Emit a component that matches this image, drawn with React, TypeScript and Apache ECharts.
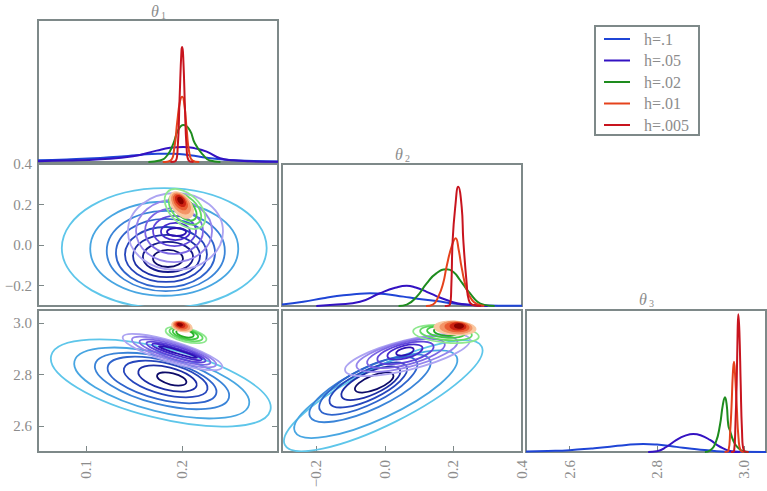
import React, { useEffect, useRef } from "react";
import * as echarts from "echarts";

// ---------- legend / series identity ----------
const H_LABELS = ["h=.1", "h=.05", "h=.02", "h=.01", "h=.005"];
const H_COLORS = ["#1f45d6", "#3312c2", "#1e8c1e", "#e5421c", "#c8141e"];

// ---------- tick values ----------
const T1_TICKS = [0.1, 0.2];
const T2_TICKS = [-0.2, 0.0, 0.2, 0.4];
const T3_TICKS = [2.6, 2.8, 3.0];
const T1_RANGE = [0.05, 0.3];
const T2_RANGE = [-0.3, 0.4];
const T3_RANGE = [2.5, 3.05];

// ---------- marginal densities (x, relative height) ----------
const T1_H1 = [[0.05,0.012],[0.08,0.018],[0.115,0.028],[0.14,0.04],[0.156,0.05],[0.175,0.058],[0.1906,0.058],[0.2083,0.048],[0.226,0.03],[0.25,0.014],[0.275,0.007],[0.3,0.004]];
const T1_H05 = [[0.05,0.006],[0.08,0.01],[0.115,0.019],[0.149,0.04],[0.1736,0.08],[0.1875,0.1],[0.2014,0.106],[0.2135,0.096],[0.2257,0.073],[0.2396,0.026],[0.2535,0.012],[0.27,0.005],[0.3,0.002]];
const T1_H02 = [[0.165,0],[0.177,0.01],[0.185,0.05],[0.191,0.13],[0.196,0.225],[0.2014,0.26],[0.208,0.225],[0.2135,0.13],[0.222,0.05],[0.229,0.01],[0.24,0]];
const T1_H01 = [[0.18,0],[0.188,0.01],[0.192,0.1],[0.195,0.28],[0.198,0.43],[0.2003,0.46],[0.2025,0.4],[0.205,0.22],[0.2075,0.07],[0.211,0.01],[0.218,0]];
const T1_H005 = [[0.188,0],[0.193,0.005],[0.1955,0.1],[0.1975,0.45],[0.1995,0.79],[0.2003,0.81],[0.2015,0.7],[0.203,0.4],[0.2048,0.1],[0.207,0.01],[0.212,0]];

const T2_H1 = [[-0.3,0.01],[-0.238,0.03],[-0.18,0.055],[-0.14,0.07],[-0.09,0.082],[-0.043,0.09],[0.0,0.085],[0.054,0.066],[0.1,0.05],[0.151,0.035],[0.2,0.018],[0.248,0.008],[0.3,0.003],[0.4,0.001]];
const T2_H05 = [[-0.2,0],[-0.14,0.01],[-0.0725,0.03],[-0.0142,0.09],[0.03,0.128],[0.0636,0.143],[0.09,0.13],[0.122,0.1],[0.15,0.07],[0.18,0.042],[0.21,0.02],[0.248,0.008],[0.3,0]];
const T2_H02 = [[0.04,0],[0.064,0.01],[0.093,0.066],[0.122,0.16],[0.15,0.23],[0.18,0.258],[0.2,0.24],[0.219,0.183],[0.235,0.13],[0.248,0.09],[0.27,0.03],[0.29,0.008],[0.32,0]];
const T2_H01 = [[0.12,0],[0.14,0.01],[0.156,0.066],[0.17,0.16],[0.18,0.277],[0.195,0.42],[0.2066,0.477],[0.215,0.4],[0.224,0.27],[0.239,0.113],[0.255,0.04],[0.268,0.015],[0.29,0]];
const T2_H005 = [[0.175,0],[0.19,0.01],[0.194,0.15],[0.1978,0.465],[0.2054,0.7],[0.214,0.84],[0.224,0.7],[0.2288,0.465],[0.2386,0.16],[0.245,0.04],[0.26,0.005],[0.28,0]];

const T3_H1 = [[2.5,0.003],[2.55,0.007],[2.6,0.013],[2.65,0.025],[2.6925,0.037],[2.73,0.05],[2.769,0.056],[2.8,0.052],[2.83,0.042],[2.86,0.03],[2.891,0.02],[2.937,0.006],[2.98,0.001],[3.05,0]];
const T3_H05 = [[2.78,0],[2.8,0.005],[2.8224,0.037],[2.845,0.085],[2.865,0.115],[2.8834,0.127],[2.9,0.118],[2.9216,0.085],[2.9445,0.037],[2.97,0.006],[2.99,0]];
const T3_H02 = [[2.91,0],[2.9216,0.01],[2.935,0.07],[2.9445,0.19],[2.951,0.33],[2.956,0.385],[2.96,0.33],[2.9636,0.19],[2.9675,0.15],[2.975,0.08],[2.983,0.04],[2.998,0.005],[3.01,0]];
const T3_H01 = [[2.955,0],[2.964,0.01],[2.968,0.15],[2.971,0.32],[2.974,0.55],[2.9766,0.636],[2.979,0.55],[2.983,0.32],[2.987,0.1],[2.992,0.01],[3.0,0]];
const T3_H005 = [[2.97,0],[2.977,0.01],[2.98,0.2],[2.9828,0.48],[2.985,0.85],[2.9866,0.97],[2.989,0.85],[2.992,0.48],[2.995,0.15],[2.999,0.01],[3.01,0]];

// ---------- contour levels: [centerX, centerY, majorEndX, majorEndY, minor/major ratio, level] ----------
const C12_H1 = [
  [0.1815,-0.014,0.2882,-0.014,0.585,0],
  [0.1815,-0.0179,0.2586,-0.0179,0.635,1],
  [0.1831,-0.0288,0.2446,-0.0288,0.68,2],
  [0.1828,-0.0386,0.2344,-0.0386,0.69,3],
  [0.1833,-0.046,0.226,-0.046,0.67,4],
  [0.1839,-0.0534,0.2188,-0.0534,0.63,5],
  [0.1854,-0.0584,0.2115,-0.0584,0.6,6],
  [0.1854,-0.0657,0.201,-0.0657,0.57,7],
];
const C12_H05 = [
  [0.1932,0.0673,0.2427,0.0673,0.81,0],
  [0.1917,0.0698,0.2313,0.0698,0.82,1],
  [0.1917,0.0698,0.2219,0.0698,0.79,2],
  [0.1922,0.0698,0.2146,0.0698,0.7,3],
  [0.1932,0.0673,0.2083,0.0673,0.59,4],
  [0.1943,0.0649,0.2042,0.0649,0.42,5],
];
const C12_H02 = [
  [0.2031,0.1782,0.2214,0.0944,0.6,0],
  [0.2031,0.1782,0.2177,0.1117,0.6,1],
  [0.2031,0.1782,0.2135,0.1289,0.6,2],
  [0.2031,0.1782,0.2094,0.1486,0.6,3],
];
const C12_HR = [
  [0.1995,0.1979,0.2094,0.1388,0.6,0],
  [0.199,0.2053,0.2068,0.1585,0.6,1],
  [0.1984,0.2127,0.2042,0.1782,0.6,2],
  [0.1984,0.2176,0.2026,0.193,0.6,3],
  [0.1984,0.2201,0.2005,0.2053,0.6,4],
];

const C13_H1 = [
  [0.1779,2.7673,0.2921,2.6615,0.31,0],
  [0.1789,2.7673,0.2698,2.6828,0.32,1],
  [0.1792,2.775,0.2489,2.7103,0.34,2],
  [0.1792,2.7789,0.2357,2.7266,0.35,3],
  [0.183,2.7828,0.2265,2.7425,0.36,4],
  [0.1849,2.7847,0.2152,2.7564,0.37,5],
  [0.1893,2.7828,0.2045,2.7688,0.38,7],
];
const C13_H05 = [
  [0.1901,2.8873,0.2419,2.8285,0.2,0],
  [0.1917,2.8873,0.2355,2.8378,0.2,1],
  [0.1927,2.8873,0.2296,2.8455,0.19,2],
  [0.1938,2.8873,0.2246,2.8521,0.17,3],
  [0.1948,2.8873,0.2207,2.8579,0.13,4],
  [0.1958,2.8873,0.2157,2.8649,0.09,5],
];
const C13_H02 = [
  [0.2042,2.9532,0.2254,2.9342,0.32,0],
  [0.2042,2.9551,0.2214,2.9396,0.33,1],
  [0.2036,2.9571,0.2168,2.9454,0.35,2],
  [0.2031,2.959,0.2122,2.9509,0.4,3],
];
const C13_HR = [
  [0.2,2.9861,0.2107,2.9776,0.5,0],
  [0.1995,2.988,0.2081,2.9811,0.5,1],
  [0.199,2.99,0.2056,2.9845,0.5,2],
  [0.1984,2.9919,0.203,2.9884,0.5,3],
  [0.1979,2.9931,0.2004,2.9911,0.55,4],
];

const C23_H1 = [
  [-0.0046,2.7177,0.2824,2.9079,0.26,0],
  [-0.0265,2.7239,0.2095,2.8691,0.28,1],
  [-0.0434,2.7467,0.1316,2.8564,0.31,2],
  [-0.0483,2.7564,0.0928,2.8498,0.33,3],
  [-0.0483,2.7595,0.0637,2.8304,0.34,4],
  [-0.041,2.7661,0.0441,2.8176,0.35,5],
  [-0.0311,2.7692,0.0246,2.7983,0.35,7],
];
const C23_H05 = [
  [0.066,2.8757,0.248,2.9361,0.23,0],
  [0.0645,2.8796,0.2115,2.9284,0.25,1],
  [0.0616,2.8815,0.1748,2.9191,0.28,2],
  [0.0602,2.8835,0.1421,2.9106,0.32,3],
  [0.0587,2.8873,0.1097,2.9044,0.35,4],
  [0.0587,2.8893,0.0841,2.8978,0.4,5],
];
const C23_H02 = [
  [0.1783,2.957,0.2742,2.9458,0.26,0],
  [0.1783,2.9609,0.2538,2.952,0.27,1],
  [0.1783,2.9648,0.2334,2.9582,0.3,2],
  [0.1783,2.9667,0.2133,2.9629,0.35,3],
];
const C23_HR = [
  [0.2045,2.9803,0.2658,2.976,0.33,0],
  [0.2074,2.9822,0.2541,2.9791,0.38,1],
  [0.2104,2.9842,0.2454,2.9818,0.4,2],
  [0.2133,2.9861,0.2366,2.9845,0.45,3],
  [0.2162,2.988,0.2293,2.9873,0.5,4],
];

// ---------- contour palettes (outer -> inner) ----------
const BLUE_LEVELS = ["#5ec6ea","#48a6e2","#3a84d8","#2f64cc","#2646bc","#1d2ea6","#16198a","#0d0b68"];
const PURPLE_LEVELS = ["#ada4f2","#9585ec","#7b66e4","#5f46da","#4428cc","#2d10b2"];
const GREEN_LEVELS = ["#8ee88e","#66da66","#44ca44","#24ae24"];
const RED_LEVELS = ["#f9c7a0","#f39466","#e95c32","#cd2212","#8a0200"];

const FRAME = "#7e8989";
const TEXT = "#8c8c8c";
const FONT = "'Liberation Serif', 'DejaVu Serif', serif";

const fmt = (v: number) => {
  const s = Math.abs(v).toFixed(1);
  return v < -1e-9 ? "\u2212" + s : s;
};

function contourSeries(xi: number, yi: number, data: number[][], palette: string[], filled: boolean) {
  return {
    type: "custom",
    xAxisIndex: xi,
    yAxisIndex: yi,
    clip: true,
    silent: true,
    data,
    encode: { x: [0, 2], y: [1, 3] },
    renderItem: (params: any, api: any) => {
      const c = api.coord([api.value(0), api.value(1)]);
      const e = api.coord([api.value(2), api.value(3)]);
      const dx = e[0] - c[0];
      const dy = e[1] - c[1];
      const a = Math.sqrt(dx * dx + dy * dy);
      const b = a * api.value(4);
      const col = palette[api.value(5)];
      return {
        type: "ellipse",
        x: c[0],
        y: c[1],
        rotation: -Math.atan2(dy, dx),
        shape: { cx: 0, cy: 0, rx: a, ry: b },
        style: filled
          ? { fill: col, stroke: col, lineWidth: 1 }
          : { fill: "none", stroke: col, lineWidth: 1.8 },
      };
    },
  };
}

function margSeries(xi: number, yi: number, sets: number[][][]) {
  return sets.map((d, i) => ({
    type: "line",
    name: H_LABELS[i],
    xAxisIndex: xi,
    yAxisIndex: yi,
    data: d,
    smooth: 0.5,
    showSymbol: false,
    silent: true,
    clip: true,
    lineStyle: { color: H_COLORS[i], width: 2, join: "round" },
    itemStyle: { color: H_COLORS[i] },
  }));
}

function xAxis(grid: number, range: number[], ticks: number[] | null) {
  return {
    type: "value",
    gridIndex: grid,
    min: range[0],
    max: range[1],
    axisLine: { show: false },
    splitLine: { show: false },
    axisTick: ticks
      ? { show: true, inside: true, length: 6, lineStyle: { color: FRAME, width: 1 }, customValues: ticks }
      : { show: false },
    axisLabel: ticks
      ? { show: true, rotate: 90, margin: 8, color: TEXT, fontFamily: FONT, fontSize: 15, customValues: ticks, formatter: fmt, showMinLabel: true, showMaxLabel: true }
      : { show: false },
  };
}

function yAxis(grid: number, range: number[], ticks: number[] | null, labels: boolean, position = "left") {
  return {
    type: "value",
    gridIndex: grid,
    position,
    min: range[0],
    max: range[1],
    axisLine: { show: false },
    splitLine: { show: false },
    axisTick: ticks
      ? { show: true, inside: true, length: 6, lineStyle: { color: FRAME, width: 1 }, customValues: ticks }
      : { show: false },
    axisLabel: ticks && labels
      ? { show: true, margin: 6, color: TEXT, fontFamily: FONT, fontSize: 15, customValues: ticks, formatter: fmt, showMinLabel: true, showMaxLabel: true }
      : { show: false },
  };
}

function titleGraphic(x: number, y: number, sub: string) {
  return [
    { type: "text", x, y, silent: true, style: { text: "θ", fontFamily: FONT, fontSize: 16, fontStyle: "italic", fill: TEXT, align: "center", verticalAlign: "middle", textAlign: "center", textVerticalAlign: "middle" } },
    { type: "text", x: x + 6, y: y + 4, silent: true, style: { text: sub, fontFamily: FONT, fontSize: 10, fill: TEXT, align: "left", verticalAlign: "middle", textAlign: "left", textVerticalAlign: "middle" } },
  ];
}

export default function App() {
  const ref = useRef<HTMLDivElement>(null);
  useEffect(() => {
    if (!ref.current) return;
    const chart = echarts.init(ref.current, null, { renderer: "svg" });
    const gridBase = { show: true, borderColor: FRAME, borderWidth: 2, backgroundColor: "transparent", containLabel: false };
    const legendGraphics: any[] = [
      { type: "rect", shape: { x: 595, y: 26, width: 104, height: 109 }, style: { fill: "#ffffff", stroke: FRAME, lineWidth: 2 }, silent: true },
    ];
    H_LABELS.forEach((lab, i) => {
      const y = 39 + 21.5 * i;
      legendGraphics.push({ type: "line", shape: { x1: 604, y1: y, x2: 630, y2: y }, style: { stroke: H_COLORS[i], lineWidth: 2 }, silent: true });
      legendGraphics.push({ type: "text", x: 644, y, silent: true, style: { text: lab, fontFamily: FONT, fontSize: 16, fill: TEXT, align: "left", verticalAlign: "middle", textAlign: "left", textVerticalAlign: "middle" } });
    });

    const option: any = {
      animation: false,
      backgroundColor: "#ffffff",
      textStyle: { fontFamily: FONT },
      grid: [
        { ...gridBase, left: 38, top: 20, width: 240, height: 142 },
        { ...gridBase, left: 38, top: 164, width: 240, height: 142 },
        { ...gridBase, left: 38, top: 310, width: 240, height: 142 },
        { ...gridBase, left: 282, top: 164, width: 240, height: 142 },
        { ...gridBase, left: 282, top: 310, width: 240, height: 142 },
        { ...gridBase, left: 526, top: 310, width: 240, height: 142 },
      ],
      xAxis: [
        xAxis(0, T1_RANGE, null),
        xAxis(1, T1_RANGE, null),
        xAxis(2, T1_RANGE, T1_TICKS),
        xAxis(3, T2_RANGE, null),
        xAxis(4, T2_RANGE, T2_TICKS),
        xAxis(5, T3_RANGE, T3_TICKS),
      ],
      yAxis: [
        yAxis(0, [0, 1], null, false),
        yAxis(1, T2_RANGE, T2_TICKS, true),
        yAxis(2, T3_RANGE, T3_TICKS, true),
        yAxis(3, [0, 1], null, false),
        yAxis(4, T3_RANGE, null, false),
        yAxis(5, [0, 1], null, false),
        yAxis(1, T2_RANGE, T2_TICKS, false, "right"),
        yAxis(2, T3_RANGE, T3_TICKS, false, "right"),
      ],
      series: [
        ...margSeries(0, 0, [T1_H1, T1_H05, T1_H02, T1_H01, T1_H005]),
        ...margSeries(3, 3, [T2_H1, T2_H05, T2_H02, T2_H01, T2_H005]),
        ...margSeries(5, 5, [T3_H1, T3_H05, T3_H02, T3_H01, T3_H005]),
        contourSeries(1, 1, C12_H1, BLUE_LEVELS, false),
        contourSeries(1, 1, C12_H05, PURPLE_LEVELS, false),
        contourSeries(1, 1, C12_H02, GREEN_LEVELS, false),
        contourSeries(1, 1, C12_HR, RED_LEVELS, true),
        contourSeries(2, 2, C13_H1, BLUE_LEVELS, false),
        contourSeries(2, 2, C13_H05, PURPLE_LEVELS, false),
        contourSeries(2, 2, C13_H02, GREEN_LEVELS, false),
        contourSeries(2, 2, C13_HR, RED_LEVELS, true),
        contourSeries(4, 4, C23_H1, BLUE_LEVELS, false),
        contourSeries(4, 4, C23_H05, PURPLE_LEVELS, false),
        contourSeries(4, 4, C23_H02, GREEN_LEVELS, false),
        contourSeries(4, 4, C23_HR, RED_LEVELS, true),
      ],
      graphic: [
        ...titleGraphic(155, 11, "1"),
        ...titleGraphic(399, 154, "2"),
        ...titleGraphic(643, 299, "3"),
        ...legendGraphics,
      ],
    };
    chart.setOption(option);
    return () => chart.dispose();
  }, []);
  return <div ref={ref} style={{ position: "absolute", left: 0, top: 0, width: 767, height: 491 }} />;
}
